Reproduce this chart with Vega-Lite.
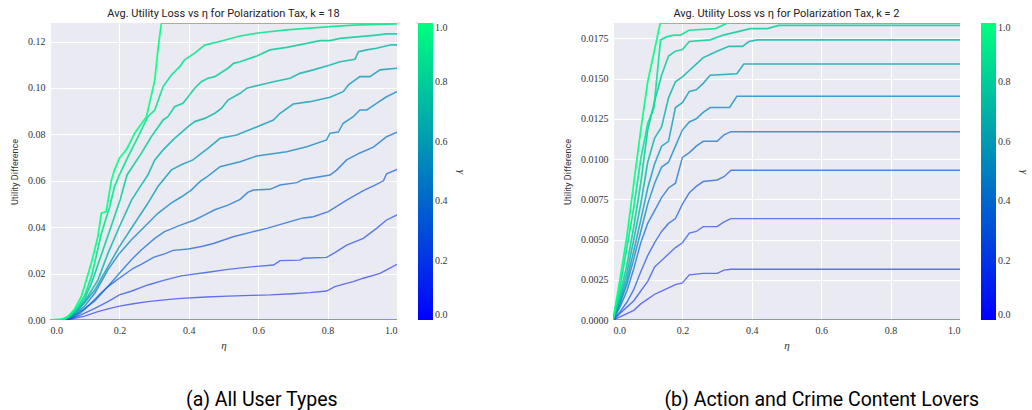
{
"$schema": "https://vega.github.io/schema/vega-lite/v6.json",
"background": "white",
"padding": {"left": 10, "top": 8, "right": 0, "bottom": 0},
"datasets": {
"a": [
{"g":0,"x":0,"y":0},{"g":0,"x":1,"y":0},
{"g":0.1,"x":0,"y":0},{"g":0.1,"x":0.04,"y":0},{"g":0.1,"x":0.06,"y":0.0004},{"g":0.1,"x":0.08,"y":0.001},{"g":0.1,"x":0.1,"y":0.0017},{"g":0.1,"x":0.138,"y":0.0036},{"g":0.1,"x":0.17,"y":0.0049},{"g":0.1,"x":0.2,"y":0.006},{"g":0.1,"x":0.24,"y":0.007},{"g":0.1,"x":0.282,"y":0.0079},{"g":0.1,"x":0.33,"y":0.0087},{"g":0.1,"x":0.378,"y":0.0093},{"g":0.1,"x":0.45,"y":0.0099},{"g":0.1,"x":0.513,"y":0.0103},{"g":0.1,"x":0.58,"y":0.0106},{"g":0.1,"x":0.634,"y":0.0108},{"g":0.1,"x":0.7,"y":0.0113},{"g":0.1,"x":0.749,"y":0.0118},{"g":0.1,"x":0.797,"y":0.0125},{"g":0.1,"x":0.821,"y":0.0144},{"g":0.1,"x":0.855,"y":0.0158},{"g":0.1,"x":0.874,"y":0.0165},{"g":0.1,"x":0.903,"y":0.018},{"g":0.1,"x":0.951,"y":0.0201},{"g":0.1,"x":0.97,"y":0.0216},{"g":0.1,"x":1,"y":0.024},
{"g":0.2,"x":0,"y":0},{"g":0.2,"x":0.04,"y":0},{"g":0.2,"x":0.06,"y":0.0006},{"g":0.2,"x":0.08,"y":0.0016},{"g":0.2,"x":0.1,"y":0.003},{"g":0.2,"x":0.129,"y":0.005},{"g":0.2,"x":0.167,"y":0.0079},{"g":0.2,"x":0.2,"y":0.0108},{"g":0.2,"x":0.234,"y":0.0124},{"g":0.2,"x":0.282,"y":0.0151},{"g":0.2,"x":0.33,"y":0.0172},{"g":0.2,"x":0.378,"y":0.019},{"g":0.2,"x":0.45,"y":0.0205},{"g":0.2,"x":0.513,"y":0.0218},{"g":0.2,"x":0.586,"y":0.023},{"g":0.2,"x":0.644,"y":0.0237},{"g":0.2,"x":0.663,"y":0.0256},{"g":0.2,"x":0.72,"y":0.0258},{"g":0.2,"x":0.73,"y":0.0266},{"g":0.2,"x":0.797,"y":0.027},{"g":0.2,"x":0.821,"y":0.029},{"g":0.2,"x":0.855,"y":0.0323},{"g":0.2,"x":0.903,"y":0.0352},{"g":0.2,"x":0.941,"y":0.0395},{"g":0.2,"x":0.97,"y":0.0431},{"g":0.2,"x":1,"y":0.0453},
{"g":0.3,"x":0,"y":0},{"g":0.3,"x":0.04,"y":0.0001},{"g":0.3,"x":0.06,"y":0.0008},{"g":0.3,"x":0.08,"y":0.0022},{"g":0.3,"x":0.1,"y":0.0045},{"g":0.3,"x":0.12,"y":0.0075},{"g":0.3,"x":0.144,"y":0.0112},{"g":0.3,"x":0.167,"y":0.0144},{"g":0.3,"x":0.192,"y":0.0172},{"g":0.3,"x":0.24,"y":0.0223},{"g":0.3,"x":0.263,"y":0.024},{"g":0.3,"x":0.298,"y":0.027},{"g":0.3,"x":0.33,"y":0.0285},{"g":0.3,"x":0.355,"y":0.03},{"g":0.3,"x":0.399,"y":0.0306},{"g":0.3,"x":0.44,"y":0.0318},{"g":0.3,"x":0.471,"y":0.033},{"g":0.3,"x":0.528,"y":0.0359},{"g":0.3,"x":0.586,"y":0.0381},{"g":0.3,"x":0.625,"y":0.0395},{"g":0.3,"x":0.692,"y":0.0424},{"g":0.3,"x":0.73,"y":0.044},{"g":0.3,"x":0.759,"y":0.0445},{"g":0.3,"x":0.802,"y":0.0467},{"g":0.3,"x":0.855,"y":0.0517},{"g":0.3,"x":0.903,"y":0.0558},{"g":0.3,"x":0.935,"y":0.058},{"g":0.3,"x":0.961,"y":0.06},{"g":0.3,"x":0.97,"y":0.063},{"g":0.3,"x":1,"y":0.0649},
{"g":0.4,"x":0,"y":0},{"g":0.4,"x":0.04,"y":0.0001},{"g":0.4,"x":0.06,"y":0.001},{"g":0.4,"x":0.08,"y":0.0028},{"g":0.4,"x":0.1,"y":0.005},{"g":0.4,"x":0.129,"y":0.0082},{"g":0.4,"x":0.167,"y":0.0144},{"g":0.4,"x":0.2,"y":0.0201},{"g":0.4,"x":0.234,"y":0.0259},{"g":0.4,"x":0.263,"y":0.0302},{"g":0.4,"x":0.302,"y":0.0352},{"g":0.4,"x":0.33,"y":0.0381},{"g":0.4,"x":0.378,"y":0.041},{"g":0.4,"x":0.417,"y":0.0431},{"g":0.4,"x":0.446,"y":0.0453},{"g":0.4,"x":0.475,"y":0.0475},{"g":0.4,"x":0.513,"y":0.0495},{"g":0.4,"x":0.548,"y":0.052},{"g":0.4,"x":0.57,"y":0.055},{"g":0.4,"x":0.586,"y":0.056},{"g":0.4,"x":0.634,"y":0.0563},{"g":0.4,"x":0.663,"y":0.0582},{"g":0.4,"x":0.711,"y":0.0592},{"g":0.4,"x":0.73,"y":0.0606},{"g":0.4,"x":0.807,"y":0.0625},{"g":0.4,"x":0.826,"y":0.0646},{"g":0.4,"x":0.855,"y":0.069},{"g":0.4,"x":0.893,"y":0.072},{"g":0.4,"x":0.932,"y":0.0745},{"g":0.4,"x":0.97,"y":0.079},{"g":0.4,"x":1,"y":0.0809},
{"g":0.5,"x":0,"y":0},{"g":0.5,"x":0.04,"y":0.0001},{"g":0.5,"x":0.06,"y":0.0012},{"g":0.5,"x":0.08,"y":0.0033},{"g":0.5,"x":0.1,"y":0.006},{"g":0.5,"x":0.129,"y":0.0115},{"g":0.5,"x":0.167,"y":0.0216},{"g":0.5,"x":0.2,"y":0.0287},{"g":0.5,"x":0.234,"y":0.0345},{"g":0.5,"x":0.311,"y":0.046},{"g":0.5,"x":0.35,"y":0.0505},{"g":0.5,"x":0.378,"y":0.053},{"g":0.5,"x":0.407,"y":0.056},{"g":0.5,"x":0.432,"y":0.0596},{"g":0.5,"x":0.455,"y":0.062},{"g":0.5,"x":0.49,"y":0.0661},{"g":0.5,"x":0.548,"y":0.0682},{"g":0.5,"x":0.596,"y":0.0707},{"g":0.5,"x":0.682,"y":0.0725},{"g":0.5,"x":0.74,"y":0.0747},{"g":0.5,"x":0.797,"y":0.0776},{"g":0.5,"x":0.807,"y":0.0805},{"g":0.5,"x":0.831,"y":0.081},{"g":0.5,"x":0.845,"y":0.0848},{"g":0.5,"x":0.874,"y":0.0876},{"g":0.5,"x":0.893,"y":0.0905},{"g":0.5,"x":0.913,"y":0.0905},{"g":0.5,"x":0.941,"y":0.0934},{"g":0.5,"x":0.97,"y":0.0962},{"g":0.5,"x":1,"y":0.0984},
{"g":0.6,"x":0,"y":0},{"g":0.6,"x":0.04,"y":0.0002},{"g":0.6,"x":0.06,"y":0.0015},{"g":0.6,"x":0.08,"y":0.004},{"g":0.6,"x":0.1,"y":0.0075},{"g":0.6,"x":0.129,"y":0.0129},{"g":0.6,"x":0.167,"y":0.023},{"g":0.6,"x":0.2,"y":0.0316},{"g":0.6,"x":0.244,"y":0.0417},{"g":0.6,"x":0.282,"y":0.0503},{"g":0.6,"x":0.311,"y":0.0575},{"g":0.6,"x":0.35,"y":0.0647},{"g":0.6,"x":0.38,"y":0.067},{"g":0.6,"x":0.412,"y":0.069},{"g":0.6,"x":0.436,"y":0.0718},{"g":0.6,"x":0.455,"y":0.074},{"g":0.6,"x":0.49,"y":0.0783},{"g":0.6,"x":0.538,"y":0.0797},{"g":0.6,"x":0.586,"y":0.0826},{"g":0.6,"x":0.644,"y":0.0862},{"g":0.6,"x":0.663,"y":0.0891},{"g":0.6,"x":0.701,"y":0.0931},{"g":0.6,"x":0.749,"y":0.0941},{"g":0.6,"x":0.807,"y":0.096},{"g":0.6,"x":0.845,"y":0.0984},{"g":0.6,"x":0.86,"y":0.1013},{"g":0.6,"x":0.893,"y":0.1049},{"g":0.6,"x":0.922,"y":0.1049},{"g":0.6,"x":0.951,"y":0.1078},{"g":0.6,"x":1,"y":0.1085},
{"g":0.7,"x":0,"y":0},{"g":0.7,"x":0.04,"y":0.0002},{"g":0.7,"x":0.06,"y":0.0018},{"g":0.7,"x":0.08,"y":0.0045},{"g":0.7,"x":0.1,"y":0.008},{"g":0.7,"x":0.138,"y":0.0172},{"g":0.7,"x":0.167,"y":0.0287},{"g":0.7,"x":0.2,"y":0.0402},{"g":0.7,"x":0.235,"y":0.0517},{"g":0.7,"x":0.26,"y":0.0575},{"g":0.7,"x":0.282,"y":0.0625},{"g":0.7,"x":0.302,"y":0.069},{"g":0.7,"x":0.326,"y":0.0733},{"g":0.7,"x":0.359,"y":0.0783},{"g":0.7,"x":0.398,"y":0.0833},{"g":0.7,"x":0.417,"y":0.0855},{"g":0.7,"x":0.446,"y":0.0869},{"g":0.7,"x":0.475,"y":0.0891},{"g":0.7,"x":0.494,"y":0.0912},{"g":0.7,"x":0.513,"y":0.0948},{"g":0.7,"x":0.548,"y":0.0977},{"g":0.7,"x":0.567,"y":0.0999},{"g":0.7,"x":0.605,"y":0.1013},{"g":0.7,"x":0.644,"y":0.1027},{"g":0.7,"x":0.692,"y":0.1042},{"g":0.7,"x":0.72,"y":0.1063},{"g":0.7,"x":0.759,"y":0.1078},{"g":0.7,"x":0.807,"y":0.1099},{"g":0.7,"x":0.836,"y":0.1113},{"g":0.7,"x":0.879,"y":0.1124},{"g":0.7,"x":0.889,"y":0.1156},{"g":0.7,"x":0.913,"y":0.1164},{"g":0.7,"x":0.941,"y":0.1171},{"g":0.7,"x":0.98,"y":0.1185},{"g":0.7,"x":1,"y":0.1186},
{"g":0.8,"x":0,"y":0},{"g":0.8,"x":0.04,"y":0.0003},{"g":0.8,"x":0.06,"y":0.002},{"g":0.8,"x":0.08,"y":0.0052},{"g":0.8,"x":0.1,"y":0.0092},{"g":0.8,"x":0.12,"y":0.016},{"g":0.8,"x":0.15,"y":0.029},{"g":0.8,"x":0.18,"y":0.042},{"g":0.8,"x":0.202,"y":0.0517},{"g":0.8,"x":0.222,"y":0.0625},{"g":0.8,"x":0.263,"y":0.0718},{"g":0.8,"x":0.292,"y":0.079},{"g":0.8,"x":0.326,"y":0.0862},{"g":0.8,"x":0.34,"y":0.0876},{"g":0.8,"x":0.359,"y":0.0919},{"g":0.8,"x":0.383,"y":0.0934},{"g":0.8,"x":0.398,"y":0.0962},{"g":0.8,"x":0.417,"y":0.0999},{"g":0.8,"x":0.436,"y":0.1027},{"g":0.8,"x":0.455,"y":0.1042},{"g":0.8,"x":0.475,"y":0.1049},{"g":0.8,"x":0.513,"y":0.1085},{"g":0.8,"x":0.529,"y":0.1106},{"g":0.8,"x":0.548,"y":0.1113},{"g":0.8,"x":0.596,"y":0.1138},{"g":0.8,"x":0.634,"y":0.1164},{"g":0.8,"x":0.682,"y":0.1175},{"g":0.8,"x":0.74,"y":0.1192},{"g":0.8,"x":0.778,"y":0.1204},{"g":0.8,"x":0.807,"y":0.1204},{"g":0.8,"x":0.836,"y":0.1214},{"g":0.8,"x":0.893,"y":0.1221},{"g":0.8,"x":0.941,"y":0.1228},{"g":0.8,"x":0.97,"y":0.1233},{"g":0.8,"x":1,"y":0.1233},
{"g":0.9,"x":0,"y":0},{"g":0.9,"x":0.04,"y":0.0003},{"g":0.9,"x":0.06,"y":0.0023},{"g":0.9,"x":0.08,"y":0.0058},{"g":0.9,"x":0.1,"y":0.0105},{"g":0.9,"x":0.12,"y":0.019},{"g":0.9,"x":0.148,"y":0.0373},{"g":0.9,"x":0.172,"y":0.0488},{"g":0.9,"x":0.186,"y":0.0575},{"g":0.9,"x":0.2,"y":0.0625},{"g":0.9,"x":0.225,"y":0.0704},{"g":0.9,"x":0.254,"y":0.079},{"g":0.9,"x":0.282,"y":0.0876},{"g":0.9,"x":0.302,"y":0.0905},{"g":0.9,"x":0.326,"y":0.1006},{"g":0.9,"x":0.35,"y":0.1056},{"g":0.9,"x":0.374,"y":0.1092},{"g":0.9,"x":0.388,"y":0.1121},{"g":0.9,"x":0.417,"y":0.115},{"g":0.9,"x":0.446,"y":0.1185},{"g":0.9,"x":0.475,"y":0.1195},{"g":0.9,"x":0.513,"y":0.121},{"g":0.9,"x":0.548,"y":0.1224},{"g":0.9,"x":0.605,"y":0.1238},{"g":0.9,"x":0.682,"y":0.125},{"g":0.9,"x":0.74,"y":0.1257},{"g":0.9,"x":0.807,"y":0.1264},{"g":0.9,"x":0.874,"y":0.1271},{"g":0.9,"x":1,"y":0.1276},
{"g":1,"x":0,"y":0},{"g":1,"x":0.03,"y":0.0002},{"g":1,"x":0.05,"y":0.0012},{"g":1,"x":0.07,"y":0.0045},{"g":1,"x":0.09,"y":0.01},{"g":1,"x":0.119,"y":0.0244},{"g":1,"x":0.138,"y":0.0359},{"g":1,"x":0.148,"y":0.046},{"g":1,"x":0.162,"y":0.0467},{"g":1,"x":0.177,"y":0.0603},{"g":1,"x":0.186,"y":0.0647},{"g":1,"x":0.2,"y":0.0697},{"g":1,"x":0.22,"y":0.0733},{"g":1,"x":0.244,"y":0.0805},{"g":1,"x":0.278,"y":0.0876},{"g":1,"x":0.302,"y":0.1034},{"g":1,"x":0.311,"y":0.1164},{"g":1,"x":0.321,"y":0.128},{"g":1,"x":1,"y":0.128}
],
"b": [
{"g":0,"x":0,"y":0},{"g":0,"x":1,"y":0},
{"g":0.1,"x":0,"y":0},{"g":0.1,"x":0.02,"y":0.0002},{"g":0.1,"x":0.04,"y":0.0004},{"g":0.1,"x":0.06,"y":0.0006},{"g":0.1,"x":0.08,"y":0.001},{"g":0.1,"x":0.1,"y":0.0013},{"g":0.1,"x":0.12,"y":0.0016},{"g":0.1,"x":0.14,"y":0.0018},{"g":0.1,"x":0.16,"y":0.002},{"g":0.1,"x":0.18,"y":0.0022},{"g":0.1,"x":0.2,"y":0.0023},{"g":0.1,"x":0.22,"y":0.0028},{"g":0.1,"x":0.26,"y":0.0029},{"g":0.1,"x":0.3,"y":0.0029},{"g":0.1,"x":0.32,"y":0.0031},{"g":0.1,"x":0.34,"y":0.00315},{"g":0.1,"x":1,"y":0.00315},
{"g":0.2,"x":0,"y":0},{"g":0.2,"x":0.02,"y":0.0004},{"g":0.2,"x":0.04,"y":0.0008},{"g":0.2,"x":0.06,"y":0.0012},{"g":0.2,"x":0.08,"y":0.0018},{"g":0.2,"x":0.1,"y":0.0024},{"g":0.2,"x":0.12,"y":0.0033},{"g":0.2,"x":0.14,"y":0.0037},{"g":0.2,"x":0.16,"y":0.0041},{"g":0.2,"x":0.18,"y":0.0045},{"g":0.2,"x":0.2,"y":0.0048},{"g":0.2,"x":0.22,"y":0.0054},{"g":0.2,"x":0.24,"y":0.0055},{"g":0.2,"x":0.26,"y":0.0058},{"g":0.2,"x":0.3,"y":0.0058},{"g":0.2,"x":0.32,"y":0.0061},{"g":0.2,"x":0.34,"y":0.0063},{"g":0.2,"x":1,"y":0.0063},
{"g":0.3,"x":0,"y":0},{"g":0.3,"x":0.02,"y":0.0005},{"g":0.3,"x":0.04,"y":0.0011},{"g":0.3,"x":0.06,"y":0.0019},{"g":0.3,"x":0.08,"y":0.003},{"g":0.3,"x":0.1,"y":0.004},{"g":0.3,"x":0.12,"y":0.0048},{"g":0.3,"x":0.14,"y":0.0055},{"g":0.3,"x":0.16,"y":0.006},{"g":0.3,"x":0.18,"y":0.0063},{"g":0.3,"x":0.2,"y":0.0072},{"g":0.3,"x":0.22,"y":0.0079},{"g":0.3,"x":0.24,"y":0.0083},{"g":0.3,"x":0.26,"y":0.0086},{"g":0.3,"x":0.3,"y":0.0087},{"g":0.3,"x":0.32,"y":0.0089},{"g":0.3,"x":0.34,"y":0.0093},{"g":0.3,"x":1,"y":0.0093},
{"g":0.4,"x":0,"y":0},{"g":0.4,"x":0.02,"y":0.0008},{"g":0.4,"x":0.04,"y":0.0018},{"g":0.4,"x":0.06,"y":0.0032},{"g":0.4,"x":0.08,"y":0.0048},{"g":0.4,"x":0.1,"y":0.006},{"g":0.4,"x":0.12,"y":0.0068},{"g":0.4,"x":0.14,"y":0.0076},{"g":0.4,"x":0.16,"y":0.0082},{"g":0.4,"x":0.18,"y":0.0085},{"g":0.4,"x":0.2,"y":0.0101},{"g":0.4,"x":0.22,"y":0.0104},{"g":0.4,"x":0.24,"y":0.0108},{"g":0.4,"x":0.26,"y":0.0111},{"g":0.4,"x":0.3,"y":0.0111},{"g":0.4,"x":0.32,"y":0.0115},{"g":0.4,"x":0.34,"y":0.0117},{"g":0.4,"x":1,"y":0.0117},
{"g":0.5,"x":0,"y":0},{"g":0.5,"x":0.02,"y":0.001},{"g":0.5,"x":0.04,"y":0.0022},{"g":0.5,"x":0.06,"y":0.0038},{"g":0.5,"x":0.08,"y":0.0055},{"g":0.5,"x":0.1,"y":0.0072},{"g":0.5,"x":0.12,"y":0.0085},{"g":0.5,"x":0.14,"y":0.0095},{"g":0.5,"x":0.16,"y":0.0098},{"g":0.5,"x":0.18,"y":0.0108},{"g":0.5,"x":0.2,"y":0.0118},{"g":0.5,"x":0.22,"y":0.0123},{"g":0.5,"x":0.24,"y":0.0125},{"g":0.5,"x":0.26,"y":0.0129},{"g":0.5,"x":0.28,"y":0.0132},{"g":0.5,"x":0.336,"y":0.0132},{"g":0.5,"x":0.357,"y":0.0139},{"g":0.5,"x":1,"y":0.0139},
{"g":0.6,"x":0,"y":0},{"g":0.6,"x":0.02,"y":0.0011},{"g":0.6,"x":0.04,"y":0.0025},{"g":0.6,"x":0.06,"y":0.0043},{"g":0.6,"x":0.08,"y":0.0062},{"g":0.6,"x":0.1,"y":0.0082},{"g":0.6,"x":0.12,"y":0.0097},{"g":0.6,"x":0.14,"y":0.0108},{"g":0.6,"x":0.16,"y":0.0111},{"g":0.6,"x":0.18,"y":0.0132},{"g":0.6,"x":0.2,"y":0.0135},{"g":0.6,"x":0.22,"y":0.0142},{"g":0.6,"x":0.24,"y":0.0143},{"g":0.6,"x":0.26,"y":0.0147},{"g":0.6,"x":0.28,"y":0.0152},{"g":0.6,"x":0.357,"y":0.0153},{"g":0.6,"x":0.377,"y":0.0159},{"g":0.6,"x":1,"y":0.0159},
{"g":0.7,"x":0,"y":0},{"g":0.7,"x":0.02,"y":0.0013},{"g":0.7,"x":0.04,"y":0.0029},{"g":0.7,"x":0.06,"y":0.005},{"g":0.7,"x":0.08,"y":0.0072},{"g":0.7,"x":0.1,"y":0.0098},{"g":0.7,"x":0.12,"y":0.0113},{"g":0.7,"x":0.14,"y":0.012},{"g":0.7,"x":0.16,"y":0.0138},{"g":0.7,"x":0.18,"y":0.0148},{"g":0.7,"x":0.2,"y":0.0151},{"g":0.7,"x":0.22,"y":0.0155},{"g":0.7,"x":0.24,"y":0.0159},{"g":0.7,"x":0.26,"y":0.0163},{"g":0.7,"x":0.28,"y":0.0165},{"g":0.7,"x":0.3,"y":0.0167},{"g":0.7,"x":0.334,"y":0.017},{"g":0.7,"x":0.373,"y":0.017},{"g":0.7,"x":0.392,"y":0.0173},{"g":0.7,"x":0.416,"y":0.0174},{"g":0.7,"x":1,"y":0.0174},
{"g":0.8,"x":0,"y":0},{"g":0.8,"x":0.02,"y":0.0016},{"g":0.8,"x":0.04,"y":0.0034},{"g":0.8,"x":0.06,"y":0.0058},{"g":0.8,"x":0.08,"y":0.0085},{"g":0.8,"x":0.1,"y":0.0118},{"g":0.8,"x":0.12,"y":0.0136},{"g":0.8,"x":0.14,"y":0.0152},{"g":0.8,"x":0.16,"y":0.0164},{"g":0.8,"x":0.18,"y":0.0167},{"g":0.8,"x":0.2,"y":0.0168},{"g":0.8,"x":0.22,"y":0.0173},{"g":0.8,"x":0.28,"y":0.0174},{"g":0.8,"x":0.318,"y":0.0177},{"g":0.8,"x":0.357,"y":0.0179},{"g":0.8,"x":0.396,"y":0.0181},{"g":0.8,"x":0.444,"y":0.0181},{"g":0.8,"x":0.478,"y":0.0183},{"g":0.8,"x":1,"y":0.0183},
{"g":0.9,"x":0,"y":0},{"g":0.9,"x":0.02,"y":0.002},{"g":0.9,"x":0.04,"y":0.0045},{"g":0.9,"x":0.06,"y":0.007},{"g":0.9,"x":0.08,"y":0.01},{"g":0.9,"x":0.1,"y":0.0122},{"g":0.9,"x":0.118,"y":0.0132},{"g":0.9,"x":0.137,"y":0.0174},{"g":0.9,"x":0.156,"y":0.0176},{"g":0.9,"x":0.176,"y":0.0177},{"g":0.9,"x":0.195,"y":0.0177},{"g":0.9,"x":0.219,"y":0.018},{"g":0.9,"x":0.296,"y":0.0181},{"g":0.9,"x":0.33,"y":0.01845},{"g":0.9,"x":1,"y":0.01845},
{"g":1,"x":0,"y":0},{"g":1,"x":0.02,"y":0.0025},{"g":1,"x":0.04,"y":0.0052},{"g":1,"x":0.06,"y":0.0085},{"g":1,"x":0.08,"y":0.0118},{"g":1,"x":0.1,"y":0.0148},{"g":1,"x":0.12,"y":0.0168},{"g":1,"x":0.136,"y":0.01845},{"g":1,"x":1,"y":0.01845}
]
},
"config": {
"view": {"fill": "#EAEAF2", "stroke": null},
"axis": {"domain": false, "ticks": false, "grid": true, "gridColor": "white", "gridWidth": 1.1, "labelFont": "Liberation Serif, Times New Roman, serif", "labelFontSize": 10, "labelColor": "#333333", "labelPadding": 5, "titleFont": "Roboto", "titleFontWeight": "normal", "titleFontSize": 9, "titleColor": "#333333"},
"axisX": {"titleFont": "Liberation Serif, serif", "titleFontStyle": "italic", "titleFontSize": 11, "titlePadding": 4},
"axisY": {"titlePadding": 8},
"title": {"font": "Roboto", "fontSize": 11, "fontWeight": "normal", "color": "#222222", "offset": 4, "frame": "group"},
"legend": {"gradientLength": 297, "gradientThickness": 15, "offset": 21, "labelFont": "Liberation Serif, Times New Roman, serif", "labelFontSize": 10, "labelColor": "#333333", "labelOffset": 7, "titleFont": "Liberation Serif, serif", "titleFontStyle": "italic", "titleFontSize": 11, "titleFontWeight": "normal", "titleColor": "#333333", "titleOrient": "right", "titleAngle": 270, "titleAnchor": "middle", "titlePadding": 8, "labelOverlap": false, "gradientStrokeWidth": 0},
"concat": {"spacing": 96}
},
"resolve": {"scale": {"x": "independent", "y": "independent", "color": "independent", "strokeWidth": "independent", "opacity": "independent"}, "legend": {"color": "independent"}},
"hconcat": [
{
"title": {"text": "(a) All User Types", "orient": "bottom", "font": "Roboto", "fontSize": 19.5, "color": "#000000", "offset": 41, "anchor": "middle", "frame": "bounds", "dx": 23},
"vconcat": [
{
"title": {"text": "Avg. Utility Loss vs η for Polarization Tax, k = 18"},
"width": 347, "height": 297,
"data": {"name": "a"},
"mark": {"type": "line", "clip": true},
"encoding": {
"x": {"field": "x", "type": "quantitative", "scale": {"domain": [0, 1], "nice": false}, "axis": {"values": [0, 0.2, 0.4, 0.6, 0.8, 1], "format": ".1f", "title": "η"}},
"y": {"field": "y", "type": "quantitative", "scale": {"domain": [0, 0.128], "nice": false}, "axis": {"values": [0, 0.02, 0.04, 0.06, 0.08, 0.1, 0.12], "format": ".2f", "title": "Utility Difference"}},
"color": {"field": "g", "type": "quantitative", "scale": {"domain": [0, 1], "range": ["#0000ff", "#00ff80"], "interpolate": "rgb"}, "legend": {"title": "γ", "values": [0, 0.2, 0.4, 0.6, 0.8, 1], "format": ".1f"}},
"detail": {"field": "g", "type": "nominal"},
"strokeWidth": {"field": "g", "type": "ordinal", "scale": {"domain": [0, 0.1, 0.2, 0.3, 0.4, 0.5, 0.6, 0.7, 0.8, 0.9, 1], "range": [1.3, 1.8, 2.3, 3, 1.3, 1.8, 2.3, 3, 1.3, 1.8, 2.2]}, "legend": null},
"opacity": {"field": "g", "type": "ordinal", "scale": {"domain": [0, 0.1, 0.2, 0.3, 0.4, 0.5, 0.6, 0.7, 0.8, 0.9, 1], "range": [0.55, 0.9, 1, 1, 0.55, 0.9, 1, 1, 0.5, 0.9, 1]}, "legend": null}
}
}
]
},
{
"title": {"text": "(b) Action and Crime Content Lovers", "orient": "bottom", "font": "Roboto", "fontSize": 19.5, "color": "#000000", "offset": 41, "anchor": "middle", "frame": "bounds", "dx": 25},
"vconcat": [
{
"title": {"text": "Avg. Utility Loss vs η for Polarization Tax, k = 2"},
"width": 347, "height": 297,
"data": {"name": "b"},
"mark": {"type": "line", "clip": true},
"encoding": {
"x": {"field": "x", "type": "quantitative", "scale": {"domain": [0, 1], "nice": false}, "axis": {"values": [0, 0.2, 0.4, 0.6, 0.8, 1], "format": ".1f", "title": "η"}},
"y": {"field": "y", "type": "quantitative", "scale": {"domain": [0, 0.01845], "nice": false}, "axis": {"values": [0, 0.0025, 0.005, 0.0075, 0.01, 0.0125, 0.015, 0.0175], "format": ".4f", "title": "Utility Difference"}},
"color": {"field": "g", "type": "quantitative", "scale": {"domain": [0, 1], "range": ["#0000ff", "#00ff80"], "interpolate": "rgb"}, "legend": {"title": "γ", "values": [0, 0.2, 0.4, 0.6, 0.8, 1], "format": ".1f"}},
"detail": {"field": "g", "type": "nominal"},
"strokeWidth": {"field": "g", "type": "ordinal", "scale": {"domain": [0, 0.1, 0.2, 0.3, 0.4, 0.5, 0.6, 0.7, 0.8, 0.9, 1], "range": [1.3, 1.8, 2.3, 3, 1.3, 1.8, 2.3, 3, 1.3, 1.8, 2.2]}, "legend": null},
"opacity": {"field": "g", "type": "ordinal", "scale": {"domain": [0, 0.1, 0.2, 0.3, 0.4, 0.5, 0.6, 0.7, 0.8, 0.9, 1], "range": [0.55, 0.9, 1, 1, 0.55, 0.9, 1, 1, 0.5, 0.9, 1]}, "legend": null}
}
}
]
}
]
}
